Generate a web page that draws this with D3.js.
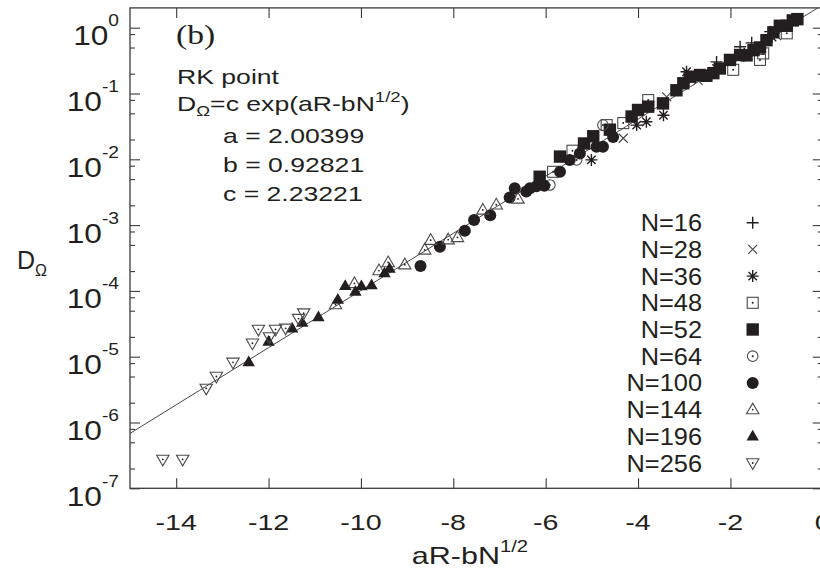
<!DOCTYPE html>
<html><head><meta charset="utf-8">
<script src="https://cdn.jsdelivr.net/npm/d3@7"></script>
<style>
body{margin:0;background:#fff}
svg{display:block}
text{font-family:"Liberation Sans",Arial,sans-serif;fill:#231f20}
</style>
</head><body>
<svg id="c" width="820" height="571"></svg>
<script>
// ---- data ----
const xTicks = [-14, -12, -10, -8, -6, -4, -2, 0];
const yTicks = [1e-7, 1e-6, 1e-5, 1e-4, 1e-3, 1e-2, 1e-1, 1e0];
const yTickExp = ["-7", "-6", "-5", "-4", "-3", "-2", "-1", "0"];
const legendLabels = ["N=16", "N=28", "N=36", "N=48", "N=52", "N=64", "N=100", "N=144", "N=196", "N=256"];
const fitA = 2.00399, fitB = 0.92821, fitC = 2.23221;

const xN16 = [-2.9, -2.3, -1.79, -1.54, -1.14, -0.7];
const dN16 = [0.158, 0.302, 0.513, 0.589, 0.871, 1.26];
const xN28 = [-4.32, -3.38, -2.7, -1.8, -1.0];
const dN28 = [2.09e-2, 8.9e-2, 0.158, 0.355, 0.76];
const xN36 = [-5.01, -4.03, -3.82, -3.45, -2.95, -2.3, -1.7, -1.1, -0.6];
const dN36 = [9.8e-3, 3.31e-2, 3.72e-2, 4.68e-2, 0.214, 0.240, 0.398, 0.724, 1.32];
const xN48 = [-5.84, -5.42, -4.68, -4.32, -3.78, -1.94, -1.36, -1.29, -0.78];
const dN48 = [6.46e-3, 1.35e-2, 3.31e-2, 3.55e-2, 7.94e-2, 0.229, 0.324, 0.407, 0.822];
const xN52 = [-6.13, -5.69, -5.17, -4.97, -4.61, -4.14, -4.0, -3.78, -3.46, -3.17, -3.02, -2.88, -2.66, -2.52, -2.37, -2.23, -2.01, -1.79, -1.65, -1.5, -1.36, -1.22, -1.07, -0.93, -0.78, -0.65, -0.55];
const dN52 = [5.43e-3, 1.10e-2, 1.74e-2, 2.24e-2, 2.82e-2, 4.47e-2, 5.62e-2, 6.31e-2, 7.08e-2, 0.112, 0.143, 0.180, 0.191, 0.186, 0.204, 0.240, 0.324, 0.385, 0.380, 0.457, 0.501, 0.646, 0.851, 1.07, 1.07, 1.29, 1.35];
const xN64 = [-5.91, -5.33, -4.76];
const dN64 = [4.07e-3, 9.8e-3, 3.31e-2];
const xN100 = [-8.71, -8.29, -7.75, -7.55, -7.20, -6.78, -6.67, -6.42, -6.34, -6.2, -6.03, -5.69, -5.48, -5.26, -4.90, -4.76, -4.54];
const dN100 = [2.40e-4, 4.68e-4, 8.22e-4, 1.20e-3, 1.41e-3, 2.63e-3, 3.63e-3, 3.24e-3, 3.63e-3, 3.89e-3, 3.98e-3, 6.46e-3, 9.77e-3, 1.23e-2, 1.55e-2, 1.55e-2, 2.19e-2];
const xN144 = [-10.55, -10.14, -9.61, -9.41, -9.05, -8.62, -8.49, -8.11, -7.91, -7.36, -7.07, -6.6];
const dN144 = [6.2e-5, 1.3e-4, 2.04e-4, 2.7e-4, 2.5e-4, 4.2e-4, 5.9e-4, 6.0e-4, 6.5e-4, 1.7e-3, 2.04e-3, 2.5e-3];
const xN196 = [-12.43, -12.0, -11.49, -11.27, -10.92, -10.5, -10.34, -10.12, -9.99, -9.77, -9.49, -9.38];
const dN196 = [8.3e-6, 1.7e-5, 2.7e-5, 3.3e-5, 4.0e-5, 7.4e-5, 1.2e-4, 9.8e-5, 1.19e-4, 1.23e-4, 1.86e-4, 2.19e-4];
const xN256 = [-14.29, -13.86, -13.35, -13.13, -12.77, -12.35, -12.22, -11.98, -11.85, -11.63, -11.35, -11.24];
const dN256 = [2.75e-7, 2.75e-7, 3.3e-6, 5.0e-6, 8.2e-6, 1.6e-5, 2.6e-5, 2.0e-5, 2.6e-5, 2.7e-5, 3.8e-5, 4.6e-5];

const seriesX = [xN16, xN28, xN36, xN48, xN52, xN64, xN100, xN144, xN196, xN256];
const seriesD = [dN16, dN28, dN36, dN48, dN52, dN64, dN100, dN144, dN196, dN256];
const symbols = ["plus", "cross", "star", "sqOpen", "sqFill", "circOpen", "circFill", "triUpOpen", "triUpFill", "triDnOpen"];

// ---- layout ----
const svg = d3.select("#c");
const L = 130, T = 7.9, B = 488.3, R = 822.8;
const x = d3.scaleLinear().domain([-15, 0]).range([L, R]);
const y = d3.scaleLog().domain([1e-7, 2]).range([B, T]);
const ink = "#231f20", axisCol = "#3a3a3a", openCol = "#4a4a4a";

// frame
svg.append("rect").attr("x", L).attr("y", T).attr("width", R - L).attr("height", B - T)
  .attr("fill", "none").attr("stroke", axisCol).attr("stroke-width", 1.3);

// axes ticks
function styleAxis(g){ g.select(".domain").remove(); g.selectAll("line").attr("stroke", axisCol).attr("stroke-width", 1.1); g.selectAll("text").remove(); }
svg.append("g").attr("transform", `translate(0,${B})`).call(d3.axisBottom(x).tickValues(xTicks).tickSize(-10).tickFormat("")).call(styleAxis);
svg.append("g").attr("transform", `translate(0,${T})`).call(d3.axisTop(x).tickValues(xTicks).tickSize(-10).tickFormat("")).call(styleAxis);
const minor = [];
yTicks.forEach(v => [2, 5, 8].forEach(m => { if (v * m < 2) minor.push(v * m); }));
svg.append("g").attr("transform", `translate(${L},0)`).call(d3.axisLeft(y).tickValues(yTicks).tickSize(-10).tickFormat("")).call(styleAxis);
svg.append("g").attr("transform", `translate(${L},0)`).call(d3.axisLeft(y).tickValues(minor).tickSize(-5).tickFormat("")).call(styleAxis);
svg.append("g").attr("transform", `translate(${R},0)`).call(d3.axisRight(y).tickValues(yTicks).tickSize(-10).tickFormat("")).call(styleAxis);
svg.append("g").attr("transform", `translate(${R},0)`).call(d3.axisRight(y).tickValues(minor).tickSize(-5).tickFormat("")).call(styleAxis);

// text helper with horizontal stretch
function stretched(px, py, sx, anchor){
  return svg.append("g").attr("transform", `translate(${px},${py}) scale(${sx},1)`)
    .append("text").attr("text-anchor", anchor || "start");
}

// x tick labels
xTicks.forEach(v => {
  stretched(x(v), 529.5, 1.3, "middle").attr("font-size", 22).text(String(v));
});
// y tick labels
yTicks.forEach((v, i) => {
  const t = stretched(119, y(v) + 17.5, 1.13, "end").attr("font-size", 28);
  t.append("tspan").text("10");
  t.append("tspan").attr("font-size", 17).attr("dy", -19).text(yTickExp[i]);
});

// axis titles
{
  const t = stretched(470, 564, 1.27, "middle").attr("font-size", 24);
  t.append("tspan").text("aR-bN");
  t.append("tspan").attr("font-size", 16).attr("dy", -12).text("1/2");
}
{
  const t = stretched(17, 269, 1.0, "start").attr("font-size", 25);
  t.append("tspan").text("D");
  t.append("tspan").attr("font-size", 16).attr("dy", 7).text("Ω");
}

// annotations
stretched(176, 43.5, 1.2, "start").attr("font-size", 28).style("font-family", '"Liberation Serif","Times New Roman",serif').text("(b)");
stretched(177, 83.5, 1.33, "start").attr("font-size", 20).text("RK point");
{
  const t = stretched(177, 110.5, 1.33, "start").attr("font-size", 20);
  t.append("tspan").text("D");
  t.append("tspan").attr("font-size", 14).attr("dy", 5).text("Ω");
  t.append("tspan").attr("dy", -5).text("=c exp(aR-bN");
  t.append("tspan").attr("font-size", 14).attr("dy", -9).text("1/2");
  t.append("tspan").attr("dy", 9).text(")");
}
stretched(223, 143, 1.33, "start").attr("font-size", 20).text(`a = ${fitA.toFixed(5)}`);
stretched(223, 172, 1.33, "start").attr("font-size", 20).text(`b = ${fitB.toFixed(5)}`);
stretched(223, 201, 1.33, "start").attr("font-size", 20).text(`c = ${fitC.toFixed(5)}`);

// clip for plot area
svg.append("clipPath").attr("id", "clip").append("rect").attr("x", L).attr("y", T).attr("width", R - L).attr("height", B - T);
const plot = svg.append("g").attr("clip-path", "url(#clip)");

// fit line D = c exp(t)
const lineXs = d3.range(-15, 0.001, 0.25);
plot.append("path").attr("d", d3.line().x(t => x(t)).y(t => y(fitC * Math.exp(t)))(lineXs))
  .attr("fill", "none").attr("stroke", "#444").attr("stroke-width", 1);

// markers
function drawMarker(g, kind){
  const s = 6;
  switch (kind) {
    case "plus": g.append("path").attr("d", `M${-s},0H${s}M0,${-s}V${s}`).attr("stroke", ink).attr("stroke-width", 1.4); break;
    case "cross": g.append("path").attr("d", `M-4.5,-4.5L4.5,4.5M-4.5,4.5L4.5,-4.5`).attr("stroke", openCol).attr("stroke-width", 1.2); break;
    case "star": g.append("path").attr("d", `M${-s},0H${s}M0,${-s}V${s}M-4.2,-4.2L4.2,4.2M-4.2,4.2L4.2,-4.2`).attr("stroke", ink).attr("stroke-width", 1.4); break;
    case "sqOpen": g.append("rect").attr("x", -5.5).attr("y", -5.5).attr("width", 11).attr("height", 11).attr("fill", "none").attr("stroke", openCol).attr("stroke-width", 1.1);
      g.append("circle").attr("r", 1).attr("fill", ink); break;
    case "sqFill": g.append("rect").attr("x", -6.2).attr("y", -6.2).attr("width", 12.4).attr("height", 12.4).attr("fill", ink); break;
    case "circOpen": g.append("circle").attr("r", 5.3).attr("fill", "none").attr("stroke", openCol).attr("stroke-width", 1.1);
      g.append("circle").attr("r", 1).attr("fill", ink); break;
    case "circFill": g.append("circle").attr("r", 6).attr("fill", ink); break;
    case "triUpOpen": g.append("path").attr("d", "M0,-6.5L6.2,4.2L-6.2,4.2Z").attr("fill", "none").attr("stroke", openCol).attr("stroke-width", 1.1);
      g.append("circle").attr("r", 0.9).attr("fill", ink); break;
    case "triUpFill": g.append("path").attr("d", "M0,-6.5L6.2,4.2L-6.2,4.2Z").attr("fill", ink); break;
    case "triDnOpen": g.append("path").attr("d", "M0,6.5L6.2,-4.2L-6.2,-4.2Z").attr("fill", "none").attr("stroke", openCol).attr("stroke-width", 1.1);
      g.append("circle").attr("r", 0.9).attr("fill", ink); break;
  }
}

seriesX.forEach((xs, si) => {
  const g = plot.append("g").attr("class", "series-" + legendLabels[si]);
  xs.forEach((xv, k) => {
    const m = g.append("g").attr("transform", `translate(${x(xv)},${y(seriesD[si][k])})`);
    drawMarker(m, symbols[si]);
  });
});

// legend
legendLabels.forEach((lab, i) => {
  const cy = 222.7 + i * 26.7;
  stretched(702, cy + 8.5, 1.08, "end").attr("font-size", 23.5).text(lab);
  const m = svg.append("g").attr("transform", `translate(752.7,${cy})`);
  drawMarker(m, symbols[i]);
});
</script>
</body></html>
